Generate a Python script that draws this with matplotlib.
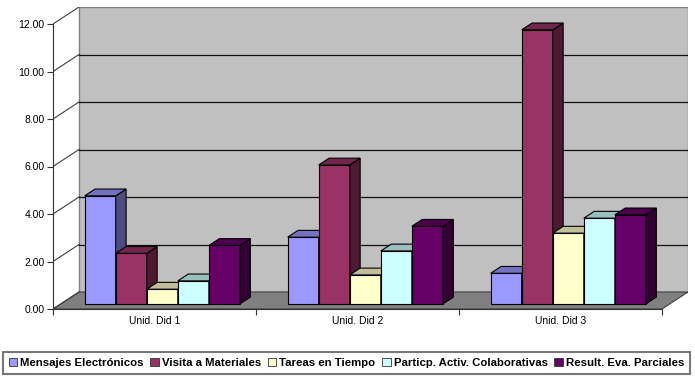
import numpy as np
import matplotlib
matplotlib.use("Agg")
import matplotlib.pyplot as plt
from matplotlib.patches import Polygon, Rectangle, Patch
from matplotlib import colors as mcolors

plt.rcParams['font.family'] = ['Liberation Sans', 'DejaVu Sans']

# datos
categorias = ['Unid. Did 1', 'Unid. Did 2', 'Unid. Did 3']
series = ['Mensajes Electrónicos', 'Visita a Materiales', 'Tareas en Tiempo',
          'Particp. Activ. Colaborativas', 'Result. Eva. Parciales']
mensajes = [4.55, 2.81, 1.29]
visita = [2.13, 5.85, 11.54]
tareas = [0.62, 1.22, 2.98]
particip = [0.97, 2.23, 3.61]
result = [2.46, 3.27, 3.75]
valores = [mensajes, visita, tareas, particip, result]
colores = ['#9999FF', '#993366', '#FFFFCC', '#CCFFFF', '#660066']
yticks = [0, 2, 4, 6, 8, 10, 12]

# profundidad "3d"
DX = 26 / 203.0
DY = 17 / 23.75
f0, f1 = 0.3, 0.7
w = 0.153
gap = (1 - 5 * w) / 2

fig = plt.figure(figsize=(6.95, 3.77), dpi=100)
ax = fig.add_axes([53 / 695, 1 - 309 / 377, 635 / 695, 302 / 377])
ax.set_xlim(0, 3 + DX)
ax.set_ylim(0, 12 + DY)
ax.patch.set_alpha(0)

# pared del fondo y piso
ax.add_patch(Rectangle((DX, DY), 3, 12, facecolor='#c0c0c0', edgecolor='#808080', lw=1, zorder=0))
ax.add_patch(Polygon([(0, 0), (3, 0), (3 + DX, DY), (DX, DY)], closed=True,
                     facecolor='#808080', edgecolor='#404040', lw=0.8, zorder=0.5))
for v in yticks:
    ax.plot([0, DX], [v, v + DY], color='#404040', lw=0.8, zorder=0.6)
    if 0 < v < 12:
        ax.plot([DX, 3 + DX], [v + DY, v + DY], color='#111111', lw=0.9, zorder=0.6)

# barras
def sombra(c, f):
    r, g, b = mcolors.to_rgb(c)
    return (r * f, g * f, b * f)

ddx = (f1 - f0) * DX
ddy = (f1 - f0) * DY
base = f0 * DY
z = 2
for i in range(len(categorias)):
    for j in range(len(series)):
        v = valores[j][i]
        x = i + gap + j * w + f0 * DX
        bars = ax.bar(x, v, width=w, bottom=base, align='edge', color=colores[j],
                      edgecolor='black', lw=0.8, zorder=z)
        side = [(x + w, base), (x + w + ddx, base + ddy), (x + w + ddx, base + v + ddy), (x + w, base + v)]
        top = [(x, base + v), (x + w, base + v), (x + w + ddx, base + v + ddy), (x + ddx, base + v + ddy)]
        ax.add_patch(Polygon(side, closed=True, facecolor=sombra(colores[j], 0.5),
                             edgecolor='black', lw=0.8, zorder=z + 0.1))
        ax.add_patch(Polygon(top, closed=True, facecolor=sombra(colores[j], 0.75),
                             edgecolor='black', lw=0.8, zorder=z + 0.2))
        z += 1

# ejes
for s in ['top', 'right']:
    ax.spines[s].set_visible(False)
ax.spines['left'].set_bounds(0, 12)
ax.spines['bottom'].set_bounds(0, 3)
ax.spines['left'].set_color('#333333')
ax.spines['bottom'].set_color('#333333')
ax.spines['left'].set_zorder(50)
ax.spines['bottom'].set_zorder(50)
ax.set_yticks(yticks)
ax.set_yticklabels(['%.2f' % t for t in yticks], fontsize=7.5)
ax.set_xticks([0, 1, 2, 3])
ax.set_xticklabels([])
ax.set_xticks([0.5, 1.5, 2.5], minor=True)
ax.set_xticklabels(categorias, minor=True, fontsize=7.5)
ax.tick_params(axis='x', which='minor', length=0, pad=5)
ax.tick_params(axis='both', which='major', length=4, width=0.8, color='#333333', pad=2)

# leyenda
handles = [Patch(facecolor=c, edgecolor='#333333', lw=0.6) for c in colores]
leg = fig.legend(handles, series, loc='upper left', bbox_to_anchor=(3 / 695, 1 - 352 / 377),
                 ncol=5, frameon=True, fancybox=False, prop={'weight': 'bold', 'size': 8.2},
                 handlelength=0.75, handleheight=0.75, handletextpad=0.25, columnspacing=0.6,
                 borderpad=0.5, borderaxespad=0)
leg.get_frame().set_edgecolor('#555555')
leg.get_frame().set_linewidth(1.5)

fig.savefig('out.png', dpi=100)
